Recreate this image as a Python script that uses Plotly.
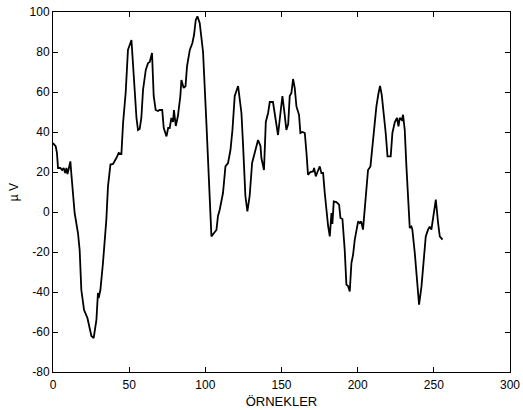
import plotly.graph_objects as go

# sample index (x) and amplitude in microvolts (y)
x_samples = [0, 1.8, 2.6, 3.3, 4.8, 6, 7, 8, 8.8, 9.5, 10.3, 11.4, 12, 14.2, 16.4, 17.5, 18.6,
             20.4, 22.6, 23.6, 25.2, 26.7, 28.5, 29.5, 30, 31.1, 32.8, 35, 36.1, 37.7, 39.4,
             41.6, 43.1, 44.9, 46, 47.7, 49.2, 51.5, 52.5, 54.8, 55.8, 56.9, 58, 59.1, 60.9,
             62.4, 63.5, 65, 66.1, 67.4, 68.9, 70, 71.7, 72.7, 74.5, 75.6, 76.6, 77.7, 78.8,
             79.4, 80.6, 82, 83.6, 84.3, 85.8, 87, 88, 89.8, 91.5, 92.6, 93.7, 94.8, 96.3,
             97.4, 98.5, 100.7, 102.4, 104, 105.7, 107.3, 108.3, 109.4, 111.6, 113.2, 114.9,
             116.5, 117.8, 119.3, 121.5, 122.6, 123.7, 124.8, 126.3, 127.6, 129.1, 130.7,
             132.4, 134.6, 136.2, 136.8, 138.5, 139.7, 141.2, 142.3, 144.4, 146.2, 147.7,
             148.8, 150.6, 152.1, 153.2, 154.4, 155.4, 156.5, 157.6, 158.7, 159.8, 161.5,
             162.4, 163.7, 165.3, 166.4, 167.4, 169, 170.7, 171.4, 172.5, 173.6, 175.1,
             176.2, 177.3, 178.4, 179.5, 180.6, 181.7, 182.8, 183.4, 184.3, 186, 187.8,
             188.7, 190, 191.5, 192.6, 193.7, 194.8, 195.9, 197, 198.1, 199.2, 200.3, 201.4,
             202.3, 203.5, 204.7, 205.8, 206.8, 208.4, 209.7, 210.8, 212.3, 213.7, 214.7,
             215.8, 217.1, 218.4, 219.6, 221.7, 222.8, 224.4, 225.8, 226.8, 227.6, 229,
             229.8, 230.9, 232, 233.5, 234.2, 235.3, 235.9, 237.5, 239, 240.3, 241.9, 243.4,
             244.7, 246.2, 247.3, 248.4, 249.5, 251.3, 252.8, 253.9, 255.7]
y_microvolts = [34.5, 32.8, 29.5, 22, 22, 21, 22, 19.5, 22, 19, 21.5, 25.3, 19.5, -0.5, -10.5,
                -19, -39, -49, -53, -56, -62, -63, -54, -40.5, -43, -39, -25.5, -4, 12.8, 23.7,
                24, 27, 29.5, 29, 44.5, 59.5, 81, 86, 73, 47, 41, 41.5, 47, 61, 71, 74.5, 75,
                79.5, 58, 51, 50.5, 51, 51, 42, 37.8, 42, 42, 47, 45, 51, 43, 48, 58, 66, 62,
                63, 73, 81, 84.5, 88.6, 96, 97.8, 94.5, 85.3, 80, 44.5, 12.8, -12.2, -10.5,
                -9, -2, 1, 9.5, 22.8, 24.5, 31, 41, 58, 63, 56, 49.5, 33, 8, 0.3, 8, 24.5,
                29.5, 36, 33, 27, 21, 45, 49.5, 55, 55, 46, 38.5, 46, 58, 48.6, 41, 44, 58,
                59.5, 66.5, 62, 52.8, 48.6, 39.5, 40, 39.5, 29.5, 18.6, 20, 20.3, 22, 17.8,
                20, 22.8, 19.5, 19.5, 9.5, -0.5, -7, -12.2, -0.5, -6, 5.3, 5, 3.7, -3, -3.5,
                -19, -36.3, -37, -39.7, -25.5, -21.3, -13.8, -8.8, -4.7, -5.6, -4.7, -8.8, 1,
                9.5, 21, 22.8, 33, 39.5, 52.8, 59.5, 63, 58.6, 49.5, 39.5, 27.8, 27.8, 39.5,
                45, 47, 42.8, 47, 46, 48.6, 41, 22.8, 2.8, -8, -7.3, -8.8, -20.5, -35.5,
                -46.3, -37.2, -23.8, -12.2, -8.8, -7.3, -8.8, -3.8, 6.2, -5.5, -12.2, -13.8]

x_ticks = [0, 50, 100, 150, 200, 250, 300]
y_ticks = [-80, -60, -40, -20, 0, 20, 40, 60, 80, 100]
y_tick_labels = ["-80", "-60", "-40", "-20", "0", "20", "40", "60", "80", "100"]

FONT = "Liberation Sans, Arial, sans-serif"

fig = go.Figure()
fig.add_trace(go.Scatter(x=x_samples, y=y_microvolts, mode="lines",
                         line=dict(color="black", width=1.8), showlegend=False))

axis_common = dict(showgrid=False, zeroline=False, showline=True, linecolor="black",
                   linewidth=1, mirror="ticks", ticks="inside", ticklen=5, tickcolor="black",
                   automargin=False,
                   tickfont=dict(family=FONT, size=12, color="black"))

fig.update_layout(
    width=523, height=410,
    margin=dict(l=53, r=13, t=12, b=38, autoexpand=False),
    paper_bgcolor="white", plot_bgcolor="white",
    font=dict(family=FONT, size=12, color="black"),
    xaxis=dict(range=[0, 300], tickvals=x_ticks, ticklabelstandoff=2,
               title=dict(text="ÖRNEKLER", standoff=5, font=dict(size=13, family=FONT)),
               **axis_common),
    yaxis=dict(range=[-80, 100], tickvals=y_ticks, ticktext=y_tick_labels,
               title=dict(text="µ V", standoff=8, font=dict(size=12, family=FONT)),
               **axis_common),
)

fig.write_html(
    "out.html",
    config={"displayModeBar": False},
    post_script="document.body.style.margin='0';document.body.style.overflow='hidden';",
)
